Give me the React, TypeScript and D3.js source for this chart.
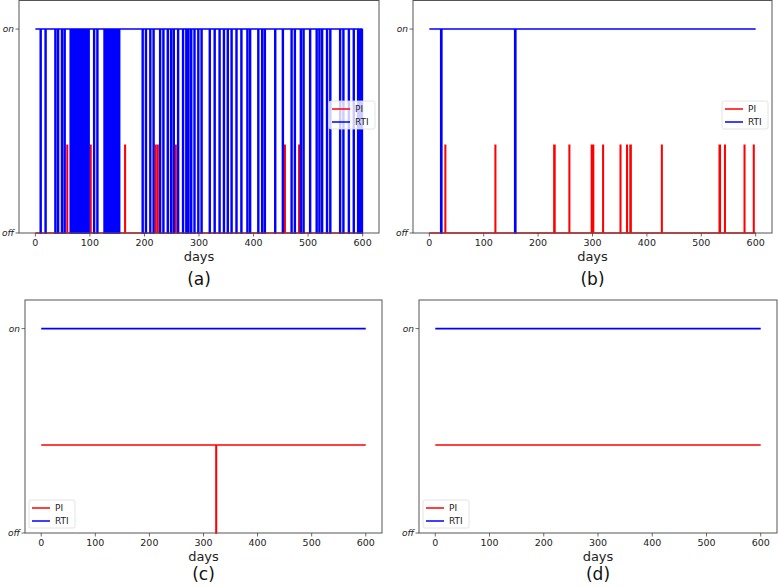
import * as d3 from "d3";

const X_TICKS = [0, 100, 200, 300, 400, 500, 600];
const LAST_DAY = 600;
const ON = 1;
const PI_LEVEL = 0.43;
const OFF = 0;

// RTI off-periods [start, end] in days, panel (a)
const RTI_A_OFF: [number, number][] = [
  [9, 10.5], [18, 19.5], [36, 37.5], [41, 42.5], [48, 49.5], [53, 54.5],
  [64, 65.5], [67, 68.5], [70, 71.5], [73, 74.5], [76, 77.5], [79, 80.5], [82, 83.5], [86, 87.5], [90, 91.5], [94, 95.5], [97, 98.5],
  [107, 108.5], [113, 114.5],
  [126, 127.5], [130, 131.5], [134, 135.5], [138, 139.5], [142, 143.5], [146, 147.5], [150, 151.5], [153, 154.5],
  [196, 197.5], [202, 203.5], [210, 211.5], [216, 217.5], [228, 229.5], [234, 235.5],
  [242, 243.5], [248, 249.5], [253, 254.5], [261, 262.5], [270, 271.5],
  [276, 277.5], [280, 281.5], [285, 286.5], [291, 292.5], [298, 299.5], [304, 305.5],
  [319, 320.5], [328, 329.5], [337, 338.5], [345, 346.5], [352, 353.5], [359, 360.5],
  [368, 369.5], [377, 378.5], [388, 389.5], [393, 394.5], [408, 409.5], [415, 416.5], [420, 421.5],
  [439, 440.5], [453, 454.5], [469, 470.5], [475, 476.5], [486, 487.5], [491, 492.5],
  [503, 504.5], [515, 516.5], [520, 521.5], [525, 526.5], [534, 535.5], [540, 541.5],
  [558, 559.5], [564, 565.5], [574, 575.5], [583, 584.5], [591, 592.5], [594, 595.5], [598, 599.5],
];
// PI on-spikes [start, end], panel (a)
const PI_A_ON: [number, number][] = [
  [58, 59], [101, 102], [164, 165], [220, 221], [224, 225], [257, 258], [457, 458], [483, 484],
];

const RTI_B_OFF: [number, number][] = [[21, 23], [157, 159]];
const PI_B_ON: [number, number][] = [
  [29, 30], [121, 122], [229, 231], [257, 258], [298, 299], [301, 302], [319, 320],
  [351, 352], [363, 364], [369, 371], [427, 428], [533, 535], [543, 544], [579, 580], [596, 597],
];

const RTI_C_OFF: [number, number][] = [];
const PI_C_OFF: [number, number][] = [[323, 324]];

const RTI_D_OFF: [number, number][] = [];
const PI_D_OFF: [number, number][] = [];

const SERIES = ["PI", "RTI"];
const COLORS = { PI: "#ff0000", RTI: "#0000ff" };

const FONT = "DejaVu Sans, sans-serif";

// baseline level plus excursions to another level
const stepPoints = (base: number, alt: number, periods: [number, number][]) => {
  const pts: [number, number][] = [[0, base]];
  periods.forEach(([s, e]) => {
    pts.push([s, base], [s, alt], [e, alt], [e, base]);
  });
  pts.push([LAST_DAY, base]);
  return pts;
};

type PanelProps = {
  left: number;
  right: number;
  top: number;
  bottom: number;
  label: string;
  labelY: number;
  pi: [number, number][];
  rti: [number, number][];
  legend: { x: number; y: number };
};

const Panel = ({ left, right, top, bottom, label, labelY, pi, rti, legend }: PanelProps) => {
  const xScale = d3.scaleLinear().domain([-30, 630]).range([left, right]);
  const yScale = d3.scaleLinear().domain([0, 1.14]).range([bottom, top]);
  const line = d3
    .line<[number, number]>()
    .x((d) => xScale(d[0]))
    .y((d) => yScale(d[1]));
  const cx = (left + right) / 2;

  return (
    <g>
      <path d={line(pi) ?? ""} fill="none" stroke={COLORS.PI} strokeWidth={1.5} />
      <path d={line(rti) ?? ""} fill="none" stroke={COLORS.RTI} strokeWidth={1.6} />

      {/* legend */}
      <g transform={`translate(${legend.x}, ${legend.y})`}>
        <rect x={0} y={0} width={46} height={28} fill="white" fillOpacity={0.8} stroke="#dddddd" strokeWidth={0.8} rx={2} />
        {SERIES.map((s, i) => (
          <g key={s}>
            <line x1={3} x2={21} y1={8 + i * 13} y2={8 + i * 13} stroke={COLORS[s as "PI" | "RTI"]} strokeWidth={1.5} />
            <text x={26} y={8 + i * 13} dominantBaseline="central" fontSize={9} fontFamily={FONT} fill="#222">
              {s}
            </text>
          </g>
        ))}
      </g>

      <rect x={left} y={top} width={right - left} height={bottom - top} fill="none" stroke="#555" strokeWidth={1} />

      {/* x axis */}
      {X_TICKS.map((t) => (
        <g key={t}>
          <line x1={xScale(t)} x2={xScale(t)} y1={bottom} y2={bottom + 3.5} stroke="#444" strokeWidth={0.8} />
          <text x={xScale(t)} y={bottom + 13} textAnchor="middle" fontSize={9.5} fontFamily={FONT} fill="#222">
            {t}
          </text>
        </g>
      ))}
      <text x={cx} y={bottom + 28} textAnchor="middle" fontSize={13} fontFamily={FONT} fill="#222">
        days
      </text>
      <text x={cx} y={labelY} textAnchor="middle" fontSize={17} fontFamily={FONT} fill="#111">
        {label}
      </text>

      {/* y axis */}
      {[
        { v: ON, t: "on" },
        { v: OFF, t: "off" },
      ].map((d) => (
        <g key={d.t}>
          <line x1={left - 3.5} x2={left} y1={yScale(d.v)} y2={yScale(d.v)} stroke="#444" strokeWidth={0.8} />
          <text
            x={left - 5}
            y={yScale(d.v)}
            textAnchor="end"
            dominantBaseline="central"
            fontSize={9}
            fontStyle="italic"
            fontFamily={FONT}
            fill="#222"
          >
            {d.t}
          </text>
        </g>
      ))}
    </g>
  );
};

export default function App() {
  return (
    <svg width={778} height={587} style={{ position: "absolute", left: 0, top: 0, background: "white" }}>
      <Panel
        left={19}
        right={379}
        top={0.5}
        bottom={233}
        label="(a)"
        labelY={285}
        pi={stepPoints(OFF, PI_LEVEL, PI_A_ON)}
        rti={stepPoints(ON, OFF, RTI_A_OFF)}
        legend={{ x: 329, y: 101 }}
      />
      <Panel
        left={413}
        right={772}
        top={0.5}
        bottom={233}
        label="(b)"
        labelY={285}
        pi={stepPoints(OFF, PI_LEVEL, PI_B_ON)}
        rti={stepPoints(ON, OFF, RTI_B_OFF)}
        legend={{ x: 722, y: 101 }}
      />
      <Panel
        left={25}
        right={382}
        top={300}
        bottom={533}
        label="(c)"
        labelY={580}
        pi={stepPoints(PI_LEVEL, OFF, PI_C_OFF)}
        rti={stepPoints(ON, OFF, RTI_C_OFF)}
        legend={{ x: 29, y: 500 }}
      />
      <Panel
        left={419}
        right={777}
        top={300}
        bottom={533}
        label="(d)"
        labelY={580}
        pi={stepPoints(PI_LEVEL, OFF, PI_D_OFF)}
        rti={stepPoints(ON, OFF, RTI_D_OFF)}
        legend={{ x: 423, y: 500 }}
      />
    </svg>
  );
}
